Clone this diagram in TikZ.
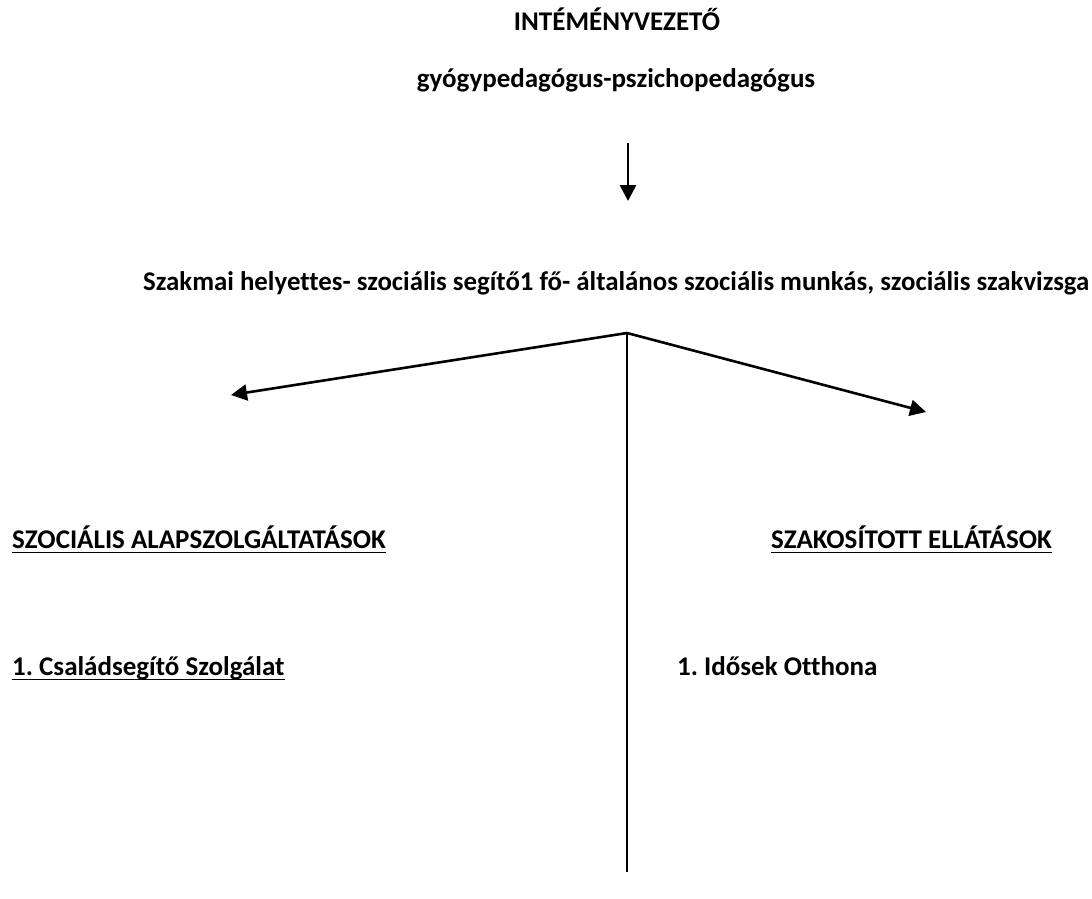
\documentclass[tikz,border=0pt]{standalone}
\usepackage{fontspec}
\usepackage{graphicx}
\setmainfont{Carlito}[Ligatures=NoCommon]
\usetikzlibrary{arrows.meta}
\begin{document}
\begin{tikzpicture}[x=1pt,y=-1pt,
  lbl/.style={inner sep=0pt,font=\fontsize{27}{30}\selectfont\bfseries},
  arr/.style={line width=2.6pt,-{Triangle[length=16pt,width=16pt]}},
  plain/.style={line width=2.6pt},
  uline/.style={line width=1.8pt}]
\frenchspacing
\useasboundingbox (0,0) rectangle (1092,899);
\node[lbl,anchor=base] (head) at (617,31) {INTÉMÉNYVEZETŐ};
\node[lbl,anchor=base] (sub) at (616,87) {gyógypedagógus-pszichopedagógus};
\coordinate (ds) at (628,143);
\coordinate (de) at (628,201);
\draw[arr] (ds) -- (de);
\node[lbl,anchor=base west] (dep) at (143,290) {\resizebox{946pt}{\height}{Szakmai helyettes- szociális segítő1 fő- általános szociális munkás, szociális szakvizsga}};
\coordinate (apex) at (627,333);
\coordinate (lt) at (231,395);
\coordinate (rt) at (926,412);
\coordinate (bot) at (627,872);
\draw[arr] (apex) -- (lt);
\draw[arr] (apex) -- (rt);
\draw[plain] (apex) -- (bot);
\node[lbl,anchor=base west] (alap) at (12,548) {SZOCIÁLIS ALAPSZOLGÁLTATÁSOK};
\node[lbl,anchor=base east] (szak) at (1052,548) {SZAKOSÍTOTT ELLÁTÁSOK};
\node[lbl,anchor=base west] (csal) at (12,675) {1. Családsegítő Szolgálat};
\node[lbl,anchor=base west] (ido) at (677,675) {1. Idősek Otthona};
\draw[uline] ([yshift=-4.5pt]alap.base west) -- ([yshift=-4.5pt]alap.base east);
\draw[uline] ([yshift=-4.5pt]szak.base west) -- ([yshift=-4.5pt]szak.base east);
\draw[uline] ([yshift=-4.5pt]csal.base west) -- ([yshift=-4.5pt]csal.base east);
\end{tikzpicture}
\end{document}
